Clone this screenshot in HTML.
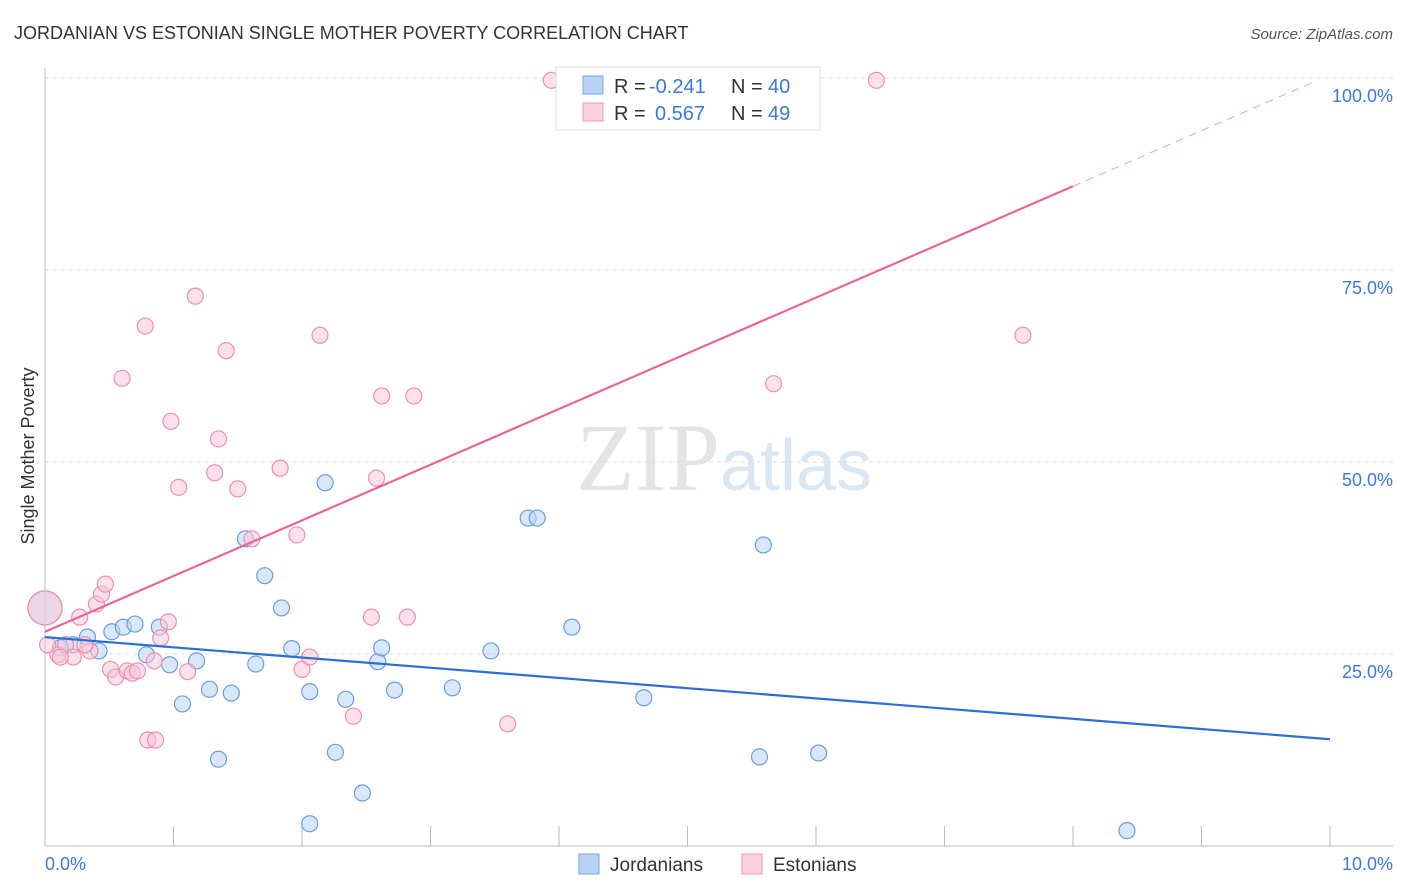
<!DOCTYPE html>
<html><head><meta charset="utf-8">
<style>
body{margin:0;background:#fff;font-family:"Liberation Sans",sans-serif;}
svg{display:block}
</style></head>
<body>
<svg width="1406" height="892" xmlns="http://www.w3.org/2000/svg">
<text x="14" y="39" font-size="18" fill="#333">JORDANIAN VS ESTONIAN SINGLE MOTHER POVERTY CORRELATION CHART</text>
<text x="1393" y="39" font-size="15" fill="#555" font-style="italic" text-anchor="end">Source: ZipAtlas.com</text>
<text x="720" y="490" font-size="96" fill="#e4e4e4" text-anchor="end" font-family="Liberation Serif">ZIP</text>
<text x="720" y="490" font-size="72" fill="#dbe6f5">atlas</text>
<g id="grid"></g>
<g id="axes"></g>
<g id="marks"></g>
<text transform="translate(34,456) rotate(-90)" font-size="18" fill="#333" text-anchor="middle">Single Mother Poverty</text>
<text x="45" y="870" font-size="18" fill="#3b78d8">0.0%</text>
<text x="1393" y="870" font-size="18" fill="#3b78d8" text-anchor="end">10.0%</text>
<g font-size="20">
<rect x="556" y="67" width="264" height="63" fill="#fff" stroke="#ddd"/>
<rect x="583" y="76" width="20" height="18" fill="#b8d3f5" stroke="#7aa7e0"/>
<rect x="583" y="103" width="20" height="18" fill="#fbd0dd" stroke="#ee9ab3"/>
<text x="614" y="93" fill="#333">R =</text>
<text x="649" y="93" fill="#3b78d8">-0.241</text>
<text x="731" y="93" fill="#333">N =</text>
<text x="768" y="93" fill="#3b78d8">40</text>
<text x="614" y="120" fill="#333">R =</text>
<text x="655" y="120" fill="#3b78d8">0.567</text>
<text x="731" y="120" fill="#333">N =</text>
<text x="768" y="120" fill="#3b78d8">49</text>
</g>
<g>
<rect x="579" y="854" width="20" height="20" fill="#b8d3f5" stroke="#7aa7e0"/>
<text x="610" y="871" font-size="19" fill="#333">Jordanians</text>
<rect x="742" y="854" width="20" height="20" fill="#fbd0dd" stroke="#ee9ab3"/>
<text x="773" y="871" font-size="19" fill="#333">Estonians</text>
</g>
</svg>
<script>
const yTicks=[25,50,75,100];
const yTickLabels=["25.0%","50.0%","75.0%","100.0%"];
const blueX=[0.00,0.33,0.42,0.52,0.61,0.70,0.79,0.89,0.97,1.07,1.18,1.28,1.45,1.56,1.64,1.71,1.84,1.92,2.06,2.06,2.18,2.26,2.34,2.47,2.59,2.62,2.72,3.17,3.47,3.76,3.83,4.10,4.66,5.56,5.59,6.02,8.42,1.35,0.22,0.12];
const blueY=[31.0,27.2,25.4,27.9,28.5,28.9,24.9,28.5,23.6,18.5,24.1,20.4,19.9,40.0,23.7,35.2,31.0,25.7,20.1,2.9,47.3,12.2,19.1,6.9,24.0,25.8,20.3,20.6,25.4,42.7,42.7,28.5,19.3,11.6,39.2,12.1,2.0,11.3,26.2,25.8];
const pinkX=[0.00,0.10,0.16,0.22,0.27,0.35,0.40,0.44,0.47,0.51,0.55,0.60,0.64,0.68,0.72,0.78,0.80,0.86,0.85,0.90,0.96,0.98,1.04,1.11,1.17,1.32,1.35,1.41,1.50,1.61,1.83,1.96,2.00,2.06,2.14,2.40,2.54,2.58,2.62,2.82,2.87,3.60,3.94,5.67,6.47,7.61,0.12,0.02,0.31];
const pinkY=[31.0,24.9,26.2,24.6,29.8,25.4,31.5,32.8,34.1,23.0,22.0,60.9,22.8,22.5,22.8,67.7,13.8,13.8,24.1,27.1,29.2,55.3,46.7,22.7,71.6,48.6,53.0,64.5,46.5,40.0,49.2,40.5,23.0,24.6,66.5,16.9,29.8,47.9,58.6,29.8,58.6,15.9,99.7,60.2,99.7,66.5,24.6,26.2,26.2];
const blueTrend=[27.2,13.9];
const pinkTrend=[27.9,100.4];
const NS="http://www.w3.org/2000/svg";
const X=v=>45+v*128.5, Y=v=>846-v*7.68;
function mk(tag,attrs,parent){const e=document.createElementNS(NS,tag);for(const k in attrs)e.setAttribute(k,attrs[k]);document.getElementById(parent).appendChild(e);return e;}
yTicks.forEach((t,i)=>{
 const l=mk('line',{x1:45,x2:1393,y1:Y(t),y2:Y(t),stroke:'#ddd','stroke-dasharray':'4,4'},'grid');
 
 
 const tx=mk('text',{x:1393,y:Y(t)+24,'font-size':18,fill:'#3b78d8','text-anchor':'end'},'grid');
 tx.textContent=yTickLabels[i];
 
 
});
const ax=mk('line',{x1:45,x2:45,y1:68,y2:846,stroke:'#bbb'},'axes');


const bx=mk('line',{x1:45,x2:1393,y1:846,y2:846,stroke:'#bbb'},'axes');


for(let i=0;i<=10;i++){const t=mk('line',{x1:X(i),x2:X(i),y1:826,y2:846,stroke:'#bbb'},'axes');
 
 }
function dots(xs,ys,fill,stroke,name){xs.forEach((x,i)=>{
 const c=mk('circle',{cx:X(x),cy:Y(ys[i]),r:(i===0?17:8),fill:fill,'fill-opacity':0.55,stroke:stroke,'stroke-width':1.2},'marks');
 
 });}
dots(blueX,blueY,'#b8d3f5','#6a9de0','jordanian-point');
dots(pinkX,pinkY,'#fbc7d7','#ec90ae','estonian-point');
const bl=mk('line',{x1:X(0),y1:Y(blueTrend[0]),x2:X(10),y2:Y(blueTrend[1]),stroke:'#2a6fd6','stroke-width':2.2},'marks');


const ps=(pinkTrend[1]-pinkTrend[0])/10;
const pl=mk('line',{x1:X(0),y1:Y(pinkTrend[0]),x2:X(8),y2:Y(pinkTrend[0]+8*ps),stroke:'#e8668f','stroke-width':2.2},'marks');


const pd=mk('line',{x1:X(8),y1:Y(pinkTrend[0]+8*ps),x2:X(9.88),y2:Y(pinkTrend[0]+9.88*ps),stroke:'#e8a0b6','stroke-width':1,'stroke-dasharray':'8,6'},'marks');


</script>
</body></html>
